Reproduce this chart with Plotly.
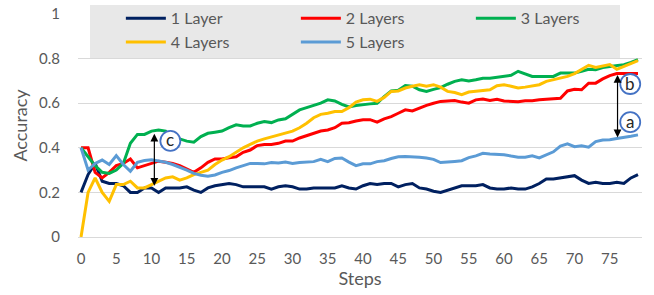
import plotly.graph_objects as go

steps = list(range(80))

layer1 = [0.20, 0.28, 0.33, 0.25, 0.24, 0.24, 0.23, 0.20, 0.20, 0.22,
          0.22, 0.20, 0.22, 0.22, 0.22, 0.225, 0.21, 0.20, 0.22, 0.23,
          0.235, 0.24, 0.235, 0.225, 0.225, 0.225, 0.225, 0.215, 0.225, 0.23,
          0.225, 0.215, 0.215, 0.22, 0.22, 0.22, 0.22, 0.23, 0.22, 0.215,
          0.23, 0.24, 0.235, 0.24, 0.24, 0.225, 0.235, 0.24, 0.22, 0.215,
          0.205, 0.20, 0.21, 0.22, 0.23, 0.23, 0.23, 0.235, 0.22, 0.215,
          0.215, 0.22, 0.215, 0.215, 0.225, 0.24, 0.26, 0.26, 0.265, 0.27,
          0.275, 0.255, 0.24, 0.245, 0.24, 0.24, 0.245, 0.24, 0.265, 0.28]

layer2 = [0.40, 0.40, 0.29, 0.265, 0.29, 0.32, 0.33, 0.35, 0.31, 0.32,
          0.33, 0.34, 0.335, 0.33, 0.32, 0.305, 0.29, 0.31, 0.335, 0.35,
          0.35, 0.355, 0.36, 0.38, 0.39, 0.41, 0.415, 0.415, 0.42, 0.43,
          0.43, 0.444, 0.455, 0.465, 0.475, 0.48, 0.49, 0.51, 0.512, 0.52,
          0.526, 0.526, 0.515, 0.53, 0.54, 0.555, 0.57, 0.565, 0.578, 0.59,
          0.60, 0.608, 0.61, 0.612, 0.605, 0.60, 0.615, 0.619, 0.612, 0.618,
          0.61, 0.607, 0.607, 0.611, 0.611, 0.615, 0.618, 0.62, 0.622, 0.655,
          0.662, 0.66, 0.69, 0.69, 0.709, 0.724, 0.733, 0.733, 0.733, 0.733]

layer3 = [0.40, 0.36, 0.32, 0.29, 0.285, 0.30, 0.33, 0.42, 0.46, 0.46,
          0.475, 0.48, 0.475, 0.44, 0.44, 0.43, 0.425, 0.45, 0.465, 0.47,
          0.475, 0.49, 0.503, 0.498, 0.498, 0.51, 0.518, 0.513, 0.525, 0.53,
          0.55, 0.57, 0.58, 0.59, 0.60, 0.615, 0.61, 0.595, 0.583, 0.59,
          0.595, 0.597, 0.60, 0.63, 0.655, 0.658, 0.679, 0.676, 0.66, 0.653,
          0.662, 0.67, 0.685, 0.698, 0.705, 0.70, 0.705, 0.712, 0.712, 0.716,
          0.72, 0.725, 0.743, 0.73, 0.72, 0.72, 0.72, 0.72, 0.735, 0.735,
          0.735, 0.743, 0.752, 0.75, 0.76, 0.765, 0.77, 0.773, 0.783, 0.795]

layer4 = [0.0, 0.20, 0.265, 0.20, 0.16, 0.235, 0.235, 0.25, 0.22, 0.22,
          0.235, 0.25, 0.265, 0.27, 0.255, 0.265, 0.28, 0.29, 0.30, 0.325,
          0.345, 0.36, 0.38, 0.40, 0.415, 0.43, 0.44, 0.448, 0.458, 0.465,
          0.475, 0.49, 0.51, 0.535, 0.55, 0.555, 0.563, 0.563, 0.58, 0.605,
          0.615, 0.618, 0.608, 0.626, 0.653, 0.655, 0.668, 0.676, 0.683, 0.676,
          0.683, 0.672, 0.653, 0.648, 0.638, 0.65, 0.653, 0.656, 0.66, 0.678,
          0.683, 0.676, 0.668, 0.672, 0.676, 0.683, 0.698, 0.705, 0.715, 0.72,
          0.733, 0.75, 0.77, 0.76, 0.765, 0.773, 0.752, 0.765, 0.776, 0.791]

layer5 = [0.40, 0.30, 0.33, 0.345, 0.325, 0.365, 0.325, 0.295, 0.335, 0.343,
          0.346, 0.34, 0.335, 0.325, 0.313, 0.30, 0.285, 0.277, 0.273, 0.278,
          0.29, 0.298, 0.31, 0.32, 0.33, 0.33, 0.328, 0.334, 0.332, 0.336,
          0.33, 0.334, 0.336, 0.338, 0.348, 0.338, 0.352, 0.354, 0.336, 0.32,
          0.328, 0.328, 0.338, 0.342, 0.352, 0.36, 0.361, 0.361, 0.358, 0.354,
          0.348, 0.334, 0.338, 0.339, 0.342, 0.356, 0.364, 0.375, 0.372, 0.37,
          0.369, 0.363, 0.358, 0.358, 0.364, 0.355, 0.368, 0.382, 0.408, 0.418,
          0.405, 0.409, 0.403, 0.428, 0.435, 0.436, 0.442, 0.446, 0.452, 0.458]

series_names = ["1 Layer", "2 Layers", "3 Layers", "4 Layers", "5 Layers"]
series_colors = ["#002060", "#FF0000", "#00B050", "#FFC000", "#5B9BD5"]
series_values = [layer1, layer2, layer3, layer4, layer5]

x_tick_vals = list(range(0, 80, 5))
y_tick_vals = [0, 0.2, 0.4, 0.6, 0.8, 1]

# gap markers: (x position in steps, top value, bottom value)
gap_arrows = [(10.4, 0.463, 0.223), (76.1, 0.727, 0.44)]
# circled labels: (label, x in steps, y value)
circle_labels = [("c", 12.67, 0.431), ("b", 77.9, 0.686), ("a", 77.9, 0.515)]

FONT = "Lato"
GRAY = "#595959"

fig = go.Figure()
for name, color, vals in zip(series_names, series_colors, series_values):
    fig.add_trace(go.Scatter(x=steps, y=vals, mode="lines", name=name,
                             line=dict(color=color, width=3)))

shapes = [dict(type="rect", xref="paper", yref="paper", x0=0.0213, x1=0.961,
               y0=0.803, y1=1.040, fillcolor="#E8E8E8", line=dict(width=0),
               layer="between")]
annotations = []
for xs, top, bot in gap_arrows:
    annotations.append(dict(x=xs, y=top, ax=xs, ay=bot, xref="x", yref="y",
                            axref="x", ayref="y", text="", showarrow=True,
                            arrowhead=2, startarrowhead=2, arrowside="end+start",
                            arrowsize=1.3, startarrowsize=1.3, arrowwidth=1.2,
                            arrowcolor="black"))
for lab, xs, ys in circle_labels:
    shapes.append(dict(type="circle", xref="x", yref="y", xsizemode="pixel",
                       ysizemode="pixel", xanchor=xs, yanchor=ys,
                       x0=-10, x1=10, y0=-10, y1=10, fillcolor="white",
                       line=dict(color="#4472C4", width=1.8), layer="above"))
    annotations.append(dict(x=xs, y=ys, xref="x", yref="y", text=lab,
                            showarrow=False, font=dict(family=FONT, size=17, color="#262626"),
                            yshift=1))

fig.update_layout(
    width=654, height=295,
    margin=dict(l=78, r=12, t=14, b=58, autoexpand=False),
    paper_bgcolor="white", plot_bgcolor="white",
    font=dict(family=FONT, size=15, color=GRAY),
    shapes=shapes, annotations=annotations,
    legend=dict(orientation="h", x=0.076, y=1.057, xanchor="left", yanchor="top",
                bgcolor="rgba(0,0,0,0)", font=dict(family=FONT, size=16, color=GRAY),
                entrywidth=120, entrywidthmode="pixels", itemwidth=40,
                traceorder="normal"),
    xaxis=dict(range=[-0.43, 79.57], tickvals=x_tick_vals, showgrid=False,
               zeroline=False, showline=False, ticks="", ticklabelstandoff=11,
               title=dict(text="Steps", font=dict(family=FONT, size=18, color=GRAY), standoff=5),
               tickfont=dict(family=FONT, size=15, color=GRAY)),
    yaxis=dict(range=[0, 1], tickvals=y_tick_vals, showgrid=True, gridcolor="#D9D9D9",
               gridwidth=1, zeroline=True, zerolinecolor="#D9D9D9", zerolinewidth=1,
               showline=False, ticks="", ticklabelstandoff=17,
               title=dict(text="Accuracy", font=dict(family=FONT, size=18, color=GRAY), standoff=6),
               tickfont=dict(family=FONT, size=15, color=GRAY)),
)

fig.write_html("out.html", config={"displayModeBar": False},
               post_script="document.body.style.margin='0';")
